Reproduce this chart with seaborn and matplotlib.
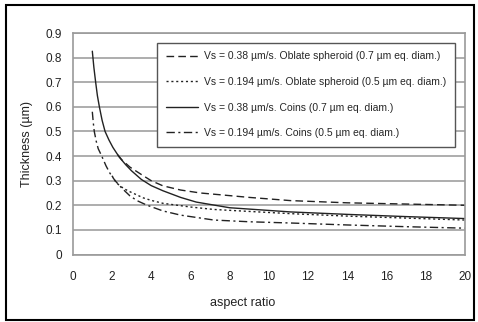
import numpy as np
import pandas as pd
import matplotlib.pyplot as plt
import seaborn as sns
from matplotlib.patches import Rectangle

# values
ar_obl07 = [2.3, 2.5, 2.92, 3.5, 4.0, 4.6, 5.5, 6.5, 7.2, 9.0, 11.1, 14.0, 17.0, 20.0]
th_obl07 = [0.405, 0.385, 0.355, 0.325, 0.300, 0.279, 0.262, 0.250, 0.245, 0.232, 0.219, 0.210, 0.205, 0.200]

ar_obl05 = [2.0, 2.24, 2.6, 2.92, 3.6, 4.0, 4.6, 6.0, 7.2, 9.0, 11.1, 14.0, 17.0, 20.0]
th_obl05 = [0.32, 0.290, 0.268, 0.255, 0.230, 0.220, 0.208, 0.193, 0.183, 0.175, 0.166, 0.156, 0.148, 0.140]

ar_coin07 = [1.0, 1.08, 1.17, 1.26, 1.36, 1.5, 1.65, 1.85, 2.05, 2.38, 2.7, 3.0, 3.5, 4.0, 4.6, 5.5, 6.3, 8.0, 11.1, 14.0, 17.0, 20.0]
th_coin07 = [0.826, 0.76, 0.70, 0.645, 0.60, 0.545, 0.50, 0.465, 0.435, 0.395, 0.365, 0.34, 0.305, 0.28, 0.259, 0.232, 0.213, 0.190, 0.173, 0.163, 0.154, 0.146]

ar_coin05 = [1.0, 1.05, 1.1, 1.2, 1.3, 1.48, 1.7, 1.9, 2.16, 2.5, 2.92, 3.3, 3.8, 4.6, 5.5, 7.2, 9.0, 11.1, 14.0, 17.0, 20.0]
th_coin05 = [0.58, 0.535, 0.50, 0.46, 0.43, 0.40, 0.36, 0.33, 0.30, 0.27, 0.238, 0.218, 0.200, 0.177, 0.160, 0.140, 0.133, 0.128, 0.120, 0.113, 0.107]

labels = [
    "Vs = 0.38 µm/s. Oblate spheroid (0.7 µm eq. diam.)",
    "Vs = 0.194 µm/s. Oblate spheroid (0.5 µm eq. diam.)",
    "Vs = 0.38 µm/s. Coins (0.7 µm eq. diam.)",
    "Vs = 0.194 µm/s. Coins (0.5 µm eq. diam.)",
]

sns.set_style("white")
plt.rcParams['font.family'] = ['Liberation Sans', 'DejaVu Sans']

fig = plt.figure(figsize=(4.78, 3.22), dpi=100)
ax = fig.add_axes([72.7 / 478, 1 - 254.5 / 322, (465 - 72.7) / 478, (254.5 - 33) / 322])

series = [
    (ar_obl07, th_obl07, (0, (5.5, 3))),
    (ar_obl05, th_obl05, (0, (1.5, 2))),
    (ar_coin07, th_coin07, '-'),
    (ar_coin05, th_coin05, (0, (6, 2.5, 1.5, 2.5))),
]
for (xs, ys, ls), lab in zip(series, labels):
    df = pd.DataFrame({"ar": xs, "th": ys})
    sns.lineplot(data=df, x="ar", y="th", ax=ax, color="#222222", linewidth=1.0,
                 linestyle=ls, label=lab, sort=False)

ax.set_xlim(0, 20)
ax.set_ylim(0, 0.9)
ax.set_xticks(np.arange(0, 21, 2))
ax.set_yticks(np.round(np.arange(0, 0.91, 0.1), 1))
ax.set_yticklabels(["0"] + [f"{v:.1f}" for v in np.arange(0.1, 0.91, 0.1)])
ax.grid(axis='y', color='#a0a0a0', linewidth=1.2)
ax.set_axisbelow(True)
for s in ax.spines.values():
    s.set_color('#9a9a9a')
    s.set_linewidth(1.2)
ax.tick_params(axis='both', direction='out', length=4, width=1, color='#9a9a9a',
               labelsize=8.5, labelcolor='#222222', pad=3.5)
ax.tick_params(axis='x', pad=8)
ax.set_xlabel("aspect ratio", fontsize=9, color='#222222')
ax.xaxis.set_label_coords(0.434, -0.19)
ax.set_ylabel("Thickness (µm)", fontsize=9, color='#222222', labelpad=9)

leg = ax.legend(loc='upper right', bbox_to_anchor=(455 / 478, 1 - 42.7 / 322),
                bbox_transform=fig.transFigure, borderaxespad=0, fontsize=7.45,
                frameon=True, fancybox=False, framealpha=1, edgecolor='#555555',
                handlelength=3.1, handletextpad=0.55, labelspacing=1.5,
                borderpad=0.85)
leg.get_frame().set_linewidth(1.0)

# outer chart border
fig.patches.append(Rectangle((6 / 478, 2 / 322), 468 / 478, 315 / 322,
                             transform=fig.transFigure, fill=False,
                             edgecolor='black', linewidth=1.5))

fig.savefig("out.png", dpi=100)
